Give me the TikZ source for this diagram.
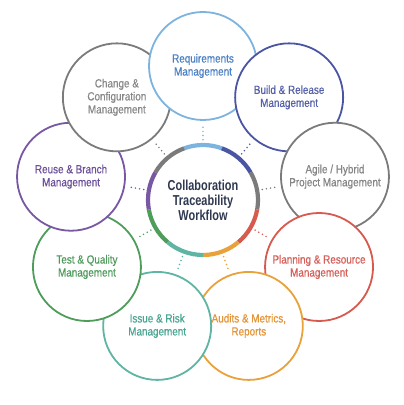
\documentclass[tikz,border=0pt]{standalone}
\usepackage{fontspec}
\setmainfont{Liberation Sans}
\newfontfamily\lblfont[FakeStretch=0.84,FakeBold=0.5]{Liberation Sans}
\newfontfamily\ctrfont[FakeStretch=0.76]{Liberation Sans}
\usetikzlibrary{calc}
\definecolor{reqc}{HTML}{7DB3DF}\definecolor{reqt}{HTML}{4A80C4}
\definecolor{bldc}{HTML}{4B56A3}\definecolor{bldt}{HTML}{5561A9}
\definecolor{agc}{HTML}{7B7B7B}\definecolor{agt}{HTML}{858585}
\definecolor{plc}{HTML}{D65A4E}\definecolor{plt}{HTML}{D6605A}
\definecolor{auc}{HTML}{E9A23B}\definecolor{aut}{HTML}{E39436}
\definecolor{isc}{HTML}{5FB5A3}\definecolor{ist}{HTML}{4BA592}
\definecolor{tsc}{HTML}{4F9D5B}\definecolor{tst}{HTML}{4E9B5C}
\definecolor{ruc}{HTML}{7857A3}\definecolor{rut}{HTML}{6D509B}
\definecolor{chc}{HTML}{7B7B7B}\definecolor{cht}{HTML}{888888}
\definecolor{ctrt}{HTML}{2E3850}
\begin{document}
\begin{tikzpicture}[x=1pt,y=1pt,
  outer/.style={circle, draw, fill=white, line width=1.8pt, minimum size=108pt, inner sep=0pt, align=center, font=\lblfont\fontsize{11.8}{13}\selectfont},
  link/.style={line width=1.7pt, line cap=round, dash pattern=on 0pt off 4.2pt, shorten <=5pt, shorten >=3pt},
  ring/.style={line width=4.2pt}]
\useasboundingbox (0,0) rectangle (404,405);
\coordinate (o) at (203,205);
\node[outer, draw=reqc, text=reqt] (req) at ($(o)+(90:134pt)$) {Requirements\\Management};
\node[outer, draw=bldc, text=bldt] (bld) at ($(o)+(50:134pt)$) {Build \& Release\\Management};
\node[outer, draw=agc, text=agt] (agl) at ($(o)+(10:134pt)$) {Agile / Hybrid\\Project Management};
\node[outer, draw=plc, text=plt] (pln) at ($(o)+(-30:134pt)$) {Planning \& Resource\\Management};
\node[outer, draw=auc, text=aut] (aud) at ($(o)+(-70:134pt)$) {Audits \& Metrics,\\Reports};
\node[outer, draw=isc, text=ist] (iss) at ($(o)+(-110:134pt)$) {Issue \& Risk\\Management};
\node[outer, draw=tsc, text=tst] (tst) at ($(o)+(-150:134pt)$) {Test \& Quality\\Management};
\node[outer, draw=ruc, text=rut] (reu) at ($(o)+(170:134pt)$) {Reuse \& Branch\\Management};
\node[outer, draw=chc, text=cht] (chg) at ($(o)+(130:134pt)$) {Change \&\\Configuration\\Management};
% requirements circle lies over the change circle
\begin{scope}
  \clip (chg.center) circle (57pt);
  \fill[white] (req.center) circle (54pt);
  \draw[reqc, line width=1.8pt] (req.center) circle (54pt);
\end{scope}
% centre
\node[circle, minimum size=110pt, inner sep=0pt, align=center, text=ctrt,
      font=\ctrfont\bfseries\fontsize{14.4}{15}\selectfont] (c) at (o) {Collaboration\\Traceability\\Workflow};
\foreach \a/\col in {90/reqc, 50/bldc, 10/agc, -30/plc, -70/auc, -110/isc, -150/tsc, 170/ruc, 130/chc}{
  \draw[ring, \col] ($(o)+(\a+20:55pt)$) arc[start angle=\a+20, end angle=\a-20, radius=55pt];
}
% dotted links
\draw[link, reqc] (c) -- (req);
\draw[link, bldc] (c) -- (bld);
\draw[link, agc] (c) -- (agl);
\draw[link, plc] (c) -- (pln);
\draw[link, auc] (c) -- (aud);
\draw[link, isc] (c) -- (iss);
\draw[link, tsc] (c) -- (tst);
\draw[link, ruc] (c) -- (reu);
\draw[link, chc] (c) -- (chg);
\end{tikzpicture}
\end{document}
